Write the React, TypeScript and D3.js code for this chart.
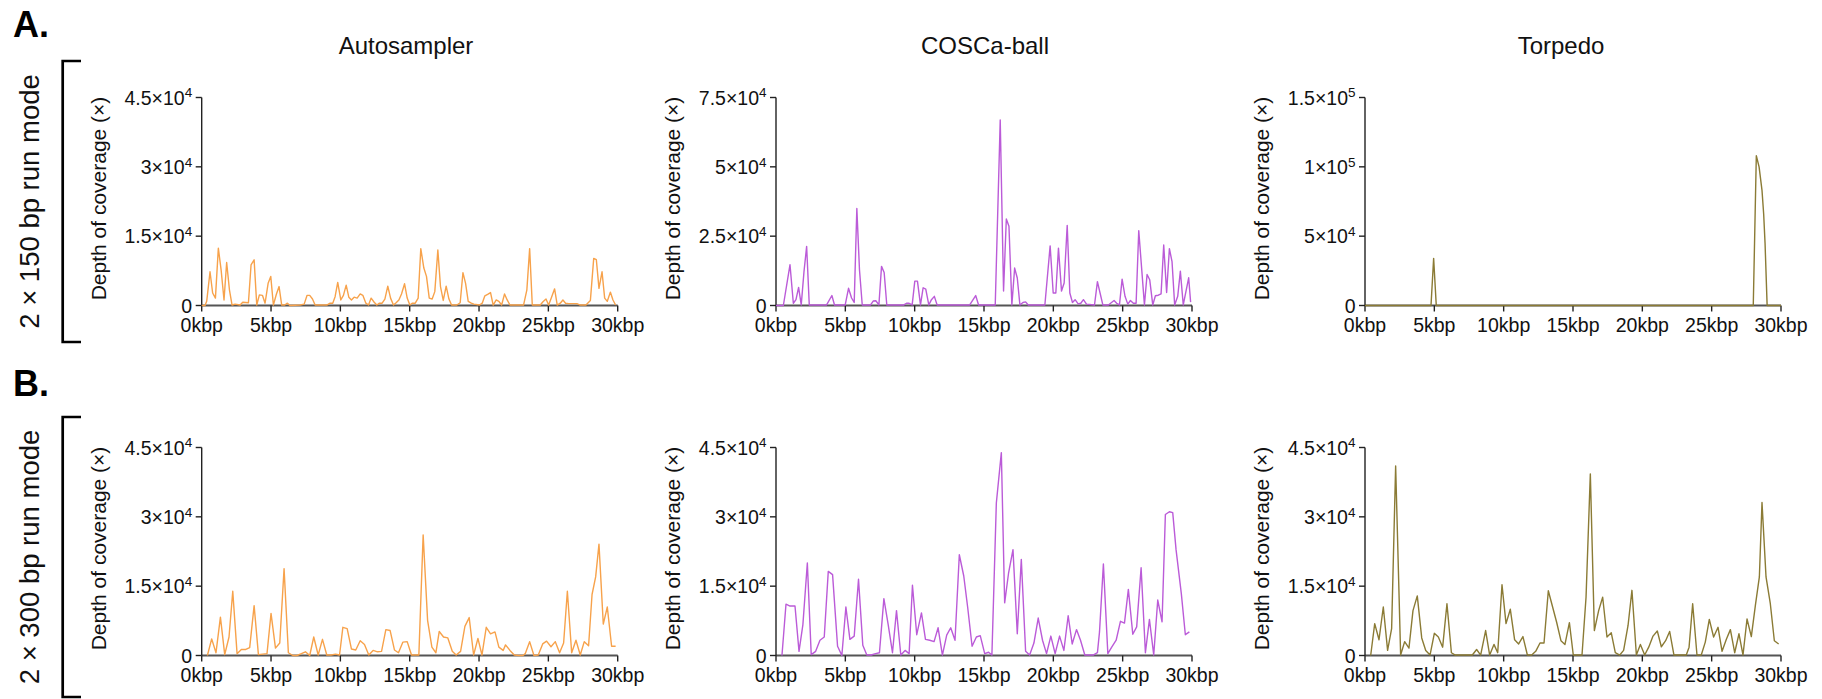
import React from 'react';
import * as d3 from 'd3';

// Genome position axis (kbp) and panel labels
const KBP_TICKS = [0, 5, 10, 15, 20, 25, 30];
const SAMPLERS = ['Autosampler', 'COSCa-ball', 'Torpedo'];
const RUN_MODES = ['2 × 150 bp run mode', '2 × 300 bp run mode'];
const ROW_TAGS = ['A.', 'B.'];
const Y_MAX = [
  [45000, 75000, 150000],
  [45000, 45000, 45000],
];
const COLORS = ['#F7A24B', '#BB5BD8', '#8B7B35'];

// Depth of coverage along the genome: [position kbp, depth]
const auto150: [number, number][] = [
  [0, 0], [0.24, 0], [0.36, 900], [0.6, 7300], [0.79, 2700], [0.99, 1600], [1.2, 12400], [1.4, 7700],
  [1.61, 1200], [1.8, 9300], [2.0, 3400], [2.19, 100], [2.41, 300], [2.77, 100], [2.96, 700], [3.37, 600],
  [3.56, 8800], [3.78, 9900], [3.97, 100], [4.16, 2300], [4.38, 2200], [4.57, 500], [4.79, 4800], [4.98, 6300],
  [5.17, 100], [5.39, 2500], [5.58, 4100], [5.77, 100], [5.99, 100], [6.18, 500], [6.37, 0], [7.1, 100],
  [7.39, 300], [7.6, 2200], [7.79, 2200], [7.99, 1400], [8.18, 100], [9.02, 100], [9.26, 500], [9.45, 500],
  [9.62, 1900], [9.81, 5000], [10.03, 1200], [10.22, 2200], [10.42, 4400], [10.61, 1800], [10.8, 1200],
  [10.99, 1800], [11.21, 1600], [11.43, 2500], [11.62, 2200], [11.84, 500], [12.03, 100], [12.22, 1600],
  [12.44, 700], [12.63, 100], [12.82, 500], [13.01, 500], [13.21, 1400], [13.42, 4200], [13.62, 1600],
  [13.83, 100], [14.02, 600], [14.22, 1200], [14.41, 2500], [14.63, 4700], [14.82, 1600], [15.01, 100],
  [15.2, 500], [15.4, 500], [15.61, 1600], [15.8, 12300], [16.02, 8100], [16.21, 6300], [16.41, 1600],
  [16.62, 1400], [16.81, 3000], [17.03, 12000], [17.22, 4100], [17.42, 1100], [17.63, 4200], [17.83, 1400],
  [18.02, 100], [18.4, 100], [18.64, 600], [18.84, 7100], [19.03, 4800], [19.22, 900], [19.44, 500],
  [19.63, 300], [20.04, 100], [20.23, 500], [20.42, 2100], [20.62, 2400], [20.83, 2800], [21.02, 100],
  [21.24, 1200], [21.43, 900], [21.63, 100], [21.84, 2500], [22.03, 1200], [22.23, 100], [23.21, 100],
  [23.45, 3400], [23.65, 12300], [23.84, 100], [24.42, 100], [24.61, 800], [24.83, 1400], [25.02, 100],
  [25.23, 1800], [25.45, 3600], [25.64, 100], [25.86, 500], [26.05, 1200], [26.24, 500], [26.46, 400],
  [27.06, 400], [27.3, 100], [27.71, 100], [28.03, 1100], [28.27, 10200], [28.46, 9900], [28.65, 3700],
  [28.87, 7300], [29.06, 1600], [29.25, 900], [29.47, 2900], [29.66, 1200], [29.85, 100],
];

const cosca150: [number, number][] = [
  [0, 0], [0.53, 0], [1.01, 14700], [1.25, 800], [1.44, 2100], [1.63, 6500], [1.82, 200], [2.02, 12300],
  [2.21, 21300], [2.4, 200], [3.65, 200], [4.03, 3600], [4.22, 200], [4.99, 200], [5.23, 6200], [5.45, 2700],
  [5.64, 1100], [5.83, 35000], [6.02, 12900], [6.22, 200], [6.82, 200], [7.01, 1600], [7.2, 1700], [7.42, 200],
  [7.61, 14100], [7.8, 11900], [7.99, 200], [9.22, 200], [9.41, 800], [9.6, 800], [9.82, 200], [10.01, 8800],
  [10.2, 8800], [10.42, 200], [10.61, 6400], [10.8, 5900], [11.02, 200], [11.21, 2100], [11.42, 3300],
  [11.62, 200], [13.97, 200], [14.4, 3600], [14.61, 200], [15.81, 200], [16.17, 66900], [16.41, 5200],
  [16.61, 31200], [16.8, 28600], [17.01, 200], [17.21, 13500], [17.4, 9900], [17.59, 200], [17.81, 1100],
  [18.0, 1300], [18.19, 200], [19.39, 200], [19.77, 21500], [19.99, 4500], [20.18, 4500], [20.37, 20700],
  [20.59, 5200], [20.78, 8100], [21.0, 28900], [21.19, 4500], [21.38, 1100], [21.57, 2100], [21.79, 600],
  [21.98, 800], [22.17, 2100], [22.39, 500], [22.97, 200], [23.18, 8600], [23.37, 4500], [23.57, 200],
  [23.97, 200], [24.38, 1800], [24.57, 800], [24.77, 200], [24.96, 9500], [25.17, 3300], [25.37, 500],
  [25.56, 1800], [25.77, 800], [25.97, 800], [26.16, 27000], [26.57, 200], [26.76, 11200], [26.95, 9300],
  [27.17, 200], [27.36, 3500], [27.57, 3700], [27.77, 4200], [27.96, 21800], [28.17, 4700], [28.37, 20500],
  [28.56, 15800], [28.75, 200], [28.97, 3300], [29.16, 12400], [29.37, 200], [29.76, 10000], [29.9, 1200],
];

const torpedo150: [number, number][] = [
  [0, 0], [4.76, 0], [4.95, 34000], [5.14, 0], [28.0, 0], [28.22, 108000], [28.42, 100000],
  [28.63, 83000], [28.75, 66000], [28.85, 45000], [29.0, 0], [30, 0],
];

const auto300: [number, number][] = [
  [0.41, 0], [0.72, 3600], [1.03, 600], [1.35, 8300], [1.66, 200], [1.97, 4000], [2.24, 13900], [2.55, 400],
  [2.86, 1300], [3.18, 1300], [3.46, 1700], [3.78, 10800], [4.09, 200], [4.4, 300], [4.71, 400], [5.0, 9100],
  [5.32, 1600], [5.63, 2700], [5.94, 18800], [6.25, 600], [6.57, 0], [6.88, 0], [7.19, 400], [7.48, 800],
  [7.79, 0], [8.08, 4000], [8.4, 100], [8.71, 3500], [9.02, 100], [9.33, 100], [9.65, 300], [9.94, 100],
  [10.18, 6100], [10.49, 5800], [10.8, 1400], [11.11, 1200], [11.43, 3200], [11.74, 2400], [12.05, 100],
  [12.36, 1100], [12.68, 800], [12.97, 900], [13.28, 5600], [13.59, 5400], [13.9, 1200], [14.19, 600],
  [14.51, 2900], [14.82, 3000], [15.13, 100], [15.44, 100], [15.66, 100], [15.97, 26100], [16.29, 7600],
  [16.6, 1800], [16.89, 600], [17.13, 5200], [17.44, 4000], [17.75, 3800], [18.07, 900], [18.35, 100],
  [18.67, 900], [18.98, 6300], [19.29, 8200], [19.61, 100], [19.92, 3700], [20.21, 100], [20.52, 6100],
  [20.83, 4700], [21.15, 5100], [21.43, 1800], [21.74, 1100], [21.91, 2300], [22.23, 1100], [22.54, 100],
  [22.85, 0], [23.17, 0], [23.33, 400], [23.65, 3000], [23.96, 0], [24.27, 100], [24.59, 2500], [24.87, 3100],
  [25.19, 1900], [25.5, 3000], [25.81, 600], [26.1, 2700], [26.37, 13900], [26.68, 600], [26.99, 3300],
  [27.3, 100], [27.59, 3000], [27.9, 2100], [28.15, 13200], [28.41, 17000], [28.65, 24100], [28.96, 6800],
  [29.25, 10500], [29.56, 2000], [29.85, 2000],
];

const cosca300: [number, number][] = [
  [0.43, 0], [0.72, 11100], [1.01, 10700], [1.37, 10700], [1.66, 900], [1.94, 6700], [2.26, 20000],
  [2.54, 200], [2.86, 900], [3.17, 3300], [3.48, 4000], [3.77, 18200], [4.08, 17500], [4.44, 2000],
  [4.75, 0], [5.04, 10500], [5.33, 3500], [5.64, 4200], [5.95, 16500], [6.26, 2200], [6.55, 100],
  [6.86, 100], [7.18, 400], [7.46, 600], [7.78, 12300], [8.09, 6700], [8.4, 600], [8.69, 9700], [9.0, 100],
  [9.31, 1100], [9.6, 400], [9.84, 15200], [10.15, 4500], [10.49, 9200], [10.78, 3500], [11.09, 3300],
  [11.4, 3000], [11.69, 6000], [12.0, 100], [12.31, 4400], [12.6, 6000], [12.91, 3300], [13.22, 21800],
  [13.54, 17200], [13.82, 10500], [14.14, 2000], [14.45, 4000], [14.73, 4300], [15.05, 400], [15.33, 700],
  [15.57, 100], [15.89, 33000], [16.25, 43900], [16.49, 11400], [16.77, 17800], [17.09, 22900],
  [17.4, 4700], [17.69, 20800], [18.0, 900], [18.29, 100], [18.6, 2700], [18.91, 8100], [19.22, 3300],
  [19.51, 400], [19.82, 4200], [20.13, 400], [20.45, 4200], [20.76, 1100], [21.07, 8600], [21.36, 2500],
  [21.67, 5600], [21.96, 3300], [22.27, 100], [22.56, 100], [22.87, 100], [23.18, 600], [23.33, 5100],
  [23.61, 19800], [23.93, 400], [24.21, 1800], [24.53, 3300], [24.84, 7400], [25.13, 7000], [25.41, 14300],
  [25.73, 4600], [26.01, 6200], [26.33, 19000], [26.64, 600], [26.93, 7800], [27.24, 100], [27.53, 12000],
  [27.84, 7300], [28.08, 30500], [28.37, 31100], [28.61, 30900], [28.85, 22900], [29.23, 13400],
  [29.52, 4500], [29.81, 5100],
];

const torpedo300: [number, number][] = [
  [0.41, 0], [0.7, 6900], [1.01, 3400], [1.32, 10500], [1.63, 1100], [1.92, 5800], [2.21, 41000],
  [2.57, 100], [2.86, 3000], [3.17, 1600], [3.46, 9700], [3.77, 12900], [4.09, 3800], [4.38, 1100],
  [4.69, 100], [5.0, 4800], [5.29, 4000], [5.6, 1800], [5.91, 11200], [6.23, 600], [6.51, 100], [6.83, 100],
  [7.74, 100], [8.05, 1300], [8.34, 100], [8.7, 5400], [8.99, 100], [9.3, 2400], [9.57, 600], [9.88, 15300],
  [10.17, 6900], [10.48, 10000], [10.79, 3400], [11.08, 2500], [11.39, 4100], [11.71, 100], [12.02, 100],
  [12.31, 900], [12.62, 2700], [12.91, 2700], [13.22, 14000], [13.53, 10500], [13.82, 7200], [14.13, 3200],
  [14.42, 2400], [14.74, 7100], [15.02, 100], [15.34, 100], [15.65, 100], [15.94, 12600], [16.25, 39300],
  [16.54, 5400], [16.85, 9700], [17.14, 12600], [17.45, 4000], [17.76, 4900], [18.05, 600], [18.37, 100],
  [18.65, 1100], [18.97, 6500], [19.25, 14100], [19.57, 100], [19.86, 2400], [20.17, 100], [20.46, 1800],
  [20.77, 4200], [21.08, 5300], [21.37, 1900], [21.68, 3200], [21.97, 5200], [22.28, 100], [23.17, 100],
  [23.37, 1800], [23.63, 11200], [23.94, 100], [24.25, 100], [24.54, 2900], [24.83, 7800], [25.14, 4000],
  [25.46, 6100], [25.75, 900], [26.06, 3500], [26.35, 5600], [26.66, 600], [26.97, 4700], [27.26, 100],
  [27.55, 7900], [27.86, 4100], [28.15, 10800], [28.44, 17000], [28.63, 33100], [28.92, 17000],
  [29.23, 11200], [29.52, 3200], [29.83, 2500],
];

const SERIES = [
  [auto150, cosca150, torpedo150],
  [auto300, cosca300, torpedo300],
];

// Layout
const WIDTH = 1822;
const HEIGHT = 699;
const PLOT_X = [201.7, 776, 1365];
const PLOT_Y = [97.5, 447.5];
const PLOT_W = 416;
const PLOT_H = 208;
const TITLE_X = [406, 985, 1561];
const FONT = '"Liberation Sans", Arial, Helvetica, sans-serif';

function sciParts(v: number): [string, string | null] {
  if (v === 0) return ['0', null];
  const exp = Math.floor(Math.log10(v) + 1e-9);
  const mant = +(v / Math.pow(10, exp)).toFixed(2);
  return [`${mant}×10`, String(exp)];
}

function Panel({ x0, y0, data, yMax, color }: {
  x0: number; y0: number; data: [number, number][]; yMax: number; color: string;
}) {
  const x = d3.scaleLinear().domain([0, 30]).range([x0, x0 + PLOT_W]);
  const y = d3.scaleLinear().domain([0, yMax]).range([y0 + PLOT_H, y0]);
  const line = d3.line<[number, number]>().x(d => x(d[0])).y(d => y(d[1]));
  const yTicks = [0, yMax / 3, (2 * yMax) / 3, yMax];
  const base = y0 + PLOT_H;
  return (
    <g>
      {/* axes */}
      <line x1={x0} x2={x0 + PLOT_W} y1={base} y2={base} stroke="#555" strokeWidth={2} />
      <line x1={x0} x2={x0} y1={y0} y2={base} stroke="#222" strokeWidth={1.4} />
      {yTicks.map((t, i) => {
        const [main, sup] = sciParts(Math.round(t));
        return (
          <g key={i}>
            <line x1={x0 - 6} x2={x0} y1={y(t)} y2={y(t)} stroke="#222" strokeWidth={1.4} />
            <text x={x0 - 9.5} y={y(t) + 7.3} textAnchor="end" fontSize={19.5} fill="#111">
              {main}
              {sup && <tspan fontSize={13.5} dy={-7.5}>{sup}</tspan>}
            </text>
          </g>
        );
      })}
      {KBP_TICKS.map(k => (
        <g key={k}>
          <line x1={x(k)} x2={x(k)} y1={base} y2={base + 6} stroke="#222" strokeWidth={1.4} />
          <text x={x(k)} y={base + 26.5} textAnchor="middle" fontSize={19.5} fill="#111">{`${k}kbp`}</text>
        </g>
      ))}
      <text
        transform={`translate(${x0 - 96},${y0 + PLOT_H / 2 - 3}) rotate(-90)`}
        textAnchor="middle" fontSize={21} fill="#111"
      >Depth of coverage (×)</text>
      <path d={line(data) || ''} fill="none" stroke={color} strokeWidth={1.4} strokeLinejoin="round" />
    </g>
  );
}

export default function App() {
  return (
    <svg
      width={WIDTH} height={HEIGHT} viewBox={`0 0 ${WIDTH} ${HEIGHT}`}
      style={{ position: 'absolute', left: 0, top: 0, background: '#fff' }}
      fontFamily={FONT}
    >
      {SAMPLERS.map((s, c) => (
        <text key={s} x={TITLE_X[c]} y={54} textAnchor="middle" fontSize={24} fill="#111">{s}</text>
      ))}
      {ROW_TAGS.map((tag, r) => {
        const top = r === 0 ? 61 : 417;
        const bottom = r === 0 ? 342 : 697;
        return (
          <g key={tag}>
            <text x={13} y={r === 0 ? 37 : 396} fontSize={36} fontWeight="bold" fill="#000">{tag}</text>
            <path d={`M81,${top}H62.7V${bottom}H81`} fill="none" stroke="#000" strokeWidth={2.7} />
            <text
              transform={`translate(39,${(top + bottom) / 2}) rotate(-90)`}
              textAnchor="middle" fontSize={27.5} fill="#111"
            >{RUN_MODES[r]}</text>
          </g>
        );
      })}
      {SERIES.map((row, r) =>
        row.map((data, c) => (
          <Panel key={`${r}-${c}`} x0={PLOT_X[c]} y0={PLOT_Y[r]} data={data} yMax={Y_MAX[r][c]} color={COLORS[c]} />
        ))
      )}
    </svg>
  );
}
